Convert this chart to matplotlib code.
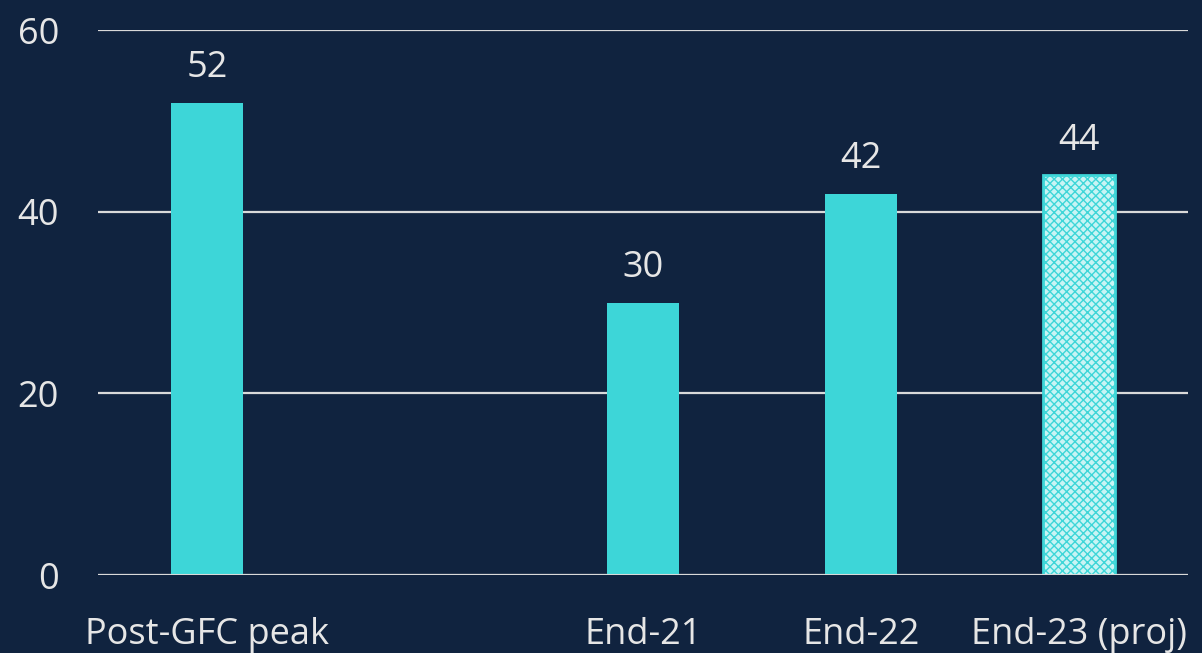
import numpy as np
import matplotlib
matplotlib.use("Agg")
import matplotlib.pyplot as plt

# Chart data
categories = ["Post-GFC peak", "", "End-21", "End-22", "End-23 (proj)"]
values = [52, np.nan, 30, 42, 44]
projected = [False, False, False, False, True]
yticks = [0, 20, 40, 60]

bg = "#10233f"
cyan = "#3dd6d8"
grid_col = "#d9d9d9"
text_col = "#e6e6e6"

plt.rcParams['font.family'] = ['Open Sans', 'DejaVu Sans']
plt.rcParams['hatch.linewidth'] = 1.0

fig = plt.figure(figsize=(12.02, 6.53), dpi=100, facecolor=bg)
ax = fig.add_axes([0.0815, 0.1194, 0.9065, 0.8346], facecolor=bg)

x = np.arange(len(categories))
for xi, v, proj in zip(x, values, projected):
    if np.isnan(v):
        continue
    if proj:
        b = ax.bar(xi, v, width=0.33, color="#c8f4f4", edgecolor=cyan,
                   hatch="xxxx", linewidth=2, zorder=3)
    else:
        b = ax.bar(xi, v, width=0.33, color=cyan, zorder=3)
    ax.bar_label(b, labels=[f"{v:.0f}"], padding=12, fontsize=26, color=text_col)

ax.set_xlim(-0.5, len(categories) - 0.5)
ax.set_ylim(0, 60)
ax.set_yticks(yticks)
ax.set_xticks(x)
ax.set_xticklabels(categories)
ax.yaxis.grid(True, color=grid_col, linewidth=1.6, zorder=0)
ax.axhline(0, color=grid_col, linewidth=2.2, zorder=4)
ax.tick_params(axis="both", length=0, labelsize=26, colors=text_col)
ax.tick_params(axis="y", pad=28)
ax.tick_params(axis="x", pad=30)
for s in ax.spines.values():
    s.set_visible(False)

fig.savefig("out.png", dpi=100, facecolor=bg)
